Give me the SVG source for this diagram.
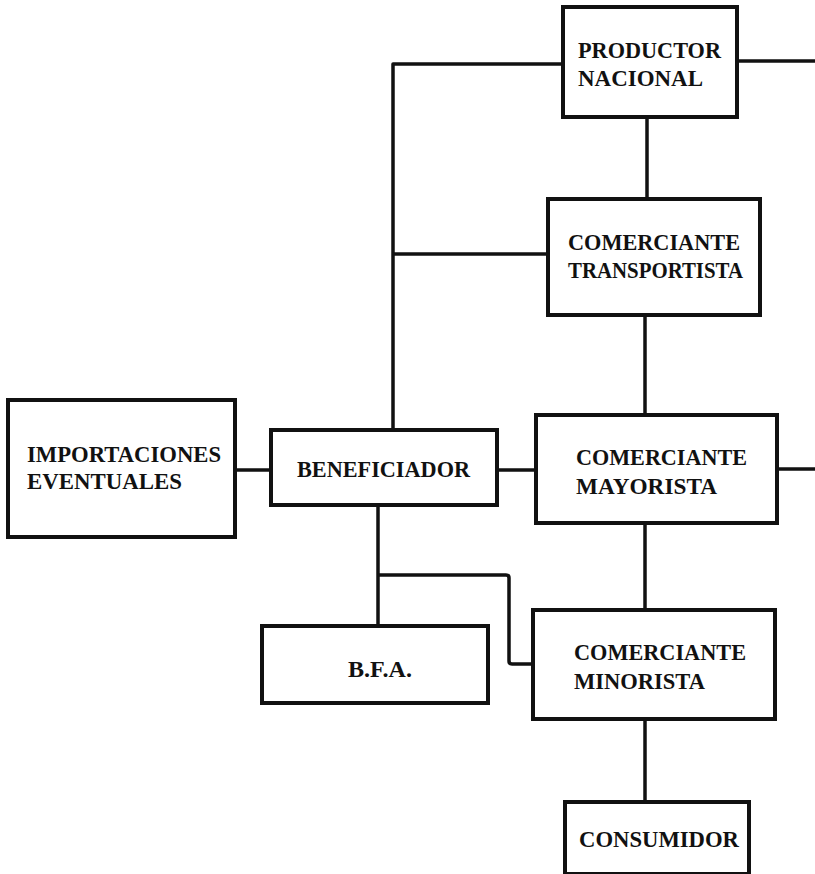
<svg xmlns="http://www.w3.org/2000/svg" width="815" height="874" viewBox="0 0 815 874">
  <style>
    .box { fill: #ffffff; stroke: #111111; stroke-width: 4; }
    .link { fill: none; stroke: #111111; stroke-width: 3.5; stroke-linejoin: round; }
    .lbl { font-family: "Liberation Serif", "Times New Roman", serif; font-weight: bold; font-size: 24px; fill: #111111; }
  </style>
  <rect x="0" y="0" width="815" height="874" fill="#ffffff"/>

  <!-- connectors -->
  <g id="connectors">
    <!-- productor: left feed down to beneficiador, right exit -->
    <path class="link" d="M563,64 H393 V430"/>
    <path class="link" d="M737,61 H815"/>
    <!-- productor to transportista -->
    <path class="link" d="M647,117 V199"/>
    <!-- transportista to the left feed -->
    <path class="link" d="M393,254 H548"/>
    <!-- transportista to mayorista -->
    <path class="link" d="M645,315 V415"/>
    <!-- importaciones to beneficiador -->
    <path class="link" d="M235,470 H271"/>
    <!-- beneficiador to mayorista -->
    <path class="link" d="M497,470 H536"/>
    <!-- mayorista right exit -->
    <path class="link" d="M777,469 H815"/>
    <!-- beneficiador down to B.F.A. and branch to minorista -->
    <path class="link" d="M378,505 V626"/>
    <path class="link" d="M378,575 H506 Q509,575 509,578 V661 Q509,664 512,664 H533"/>
    <!-- mayorista to minorista -->
    <path class="link" d="M645,523 V610"/>
    <!-- minorista to consumidor -->
    <path class="link" d="M645,719 V802"/>
  </g>

  <g id="productor">
    <rect class="box" x="563" y="7" width="174" height="110"/>
    <text class="lbl" x="578" y="58" textLength="143" lengthAdjust="spacingAndGlyphs">PRODUCTOR</text>
    <text class="lbl" x="578" y="86" textLength="125" lengthAdjust="spacingAndGlyphs">NACIONAL</text>
  </g>

  <g id="transportista">
    <rect class="box" x="548" y="199" width="212" height="116"/>
    <text class="lbl" x="568" y="250" textLength="172" lengthAdjust="spacingAndGlyphs">COMERCIANTE</text>
    <text class="lbl" x="568" y="278" textLength="175" lengthAdjust="spacingAndGlyphs">TRANSPORTISTA</text>
  </g>

  <g id="importaciones">
    <rect class="box" x="8" y="400" width="227" height="137"/>
    <text class="lbl" x="27" y="462" textLength="194" lengthAdjust="spacingAndGlyphs">IMPORTACIONES</text>
    <text class="lbl" x="27" y="489" textLength="155" lengthAdjust="spacingAndGlyphs">EVENTUALES</text>
  </g>

  <g id="beneficiador">
    <rect class="box" x="271" y="430" width="226" height="75"/>
    <text class="lbl" x="297" y="477" textLength="173" lengthAdjust="spacingAndGlyphs">BENEFICIADOR</text>
  </g>

  <g id="mayorista">
    <rect class="box" x="536" y="415" width="241" height="108"/>
    <text class="lbl" x="576" y="465" textLength="171" lengthAdjust="spacingAndGlyphs">COMERCIANTE</text>
    <text class="lbl" x="576" y="494" textLength="141" lengthAdjust="spacingAndGlyphs">MAYORISTA</text>
  </g>

  <g id="bfa">
    <rect class="box" x="262" y="626" width="226" height="77"/>
    <text class="lbl" x="348" y="677" textLength="64" lengthAdjust="spacingAndGlyphs">B.F.A.</text>
  </g>

  <g id="minorista">
    <rect class="box" x="533" y="610" width="242" height="109"/>
    <text class="lbl" x="574" y="660" textLength="172" lengthAdjust="spacingAndGlyphs">COMERCIANTE</text>
    <text class="lbl" x="574" y="689" textLength="131" lengthAdjust="spacingAndGlyphs">MINORISTA</text>
  </g>

  <g id="consumidor">
    <rect class="box" x="565" y="802" width="184" height="72"/>
    <text class="lbl" x="579" y="847" textLength="160" lengthAdjust="spacingAndGlyphs">CONSUMIDOR</text>
  </g>
</svg>
